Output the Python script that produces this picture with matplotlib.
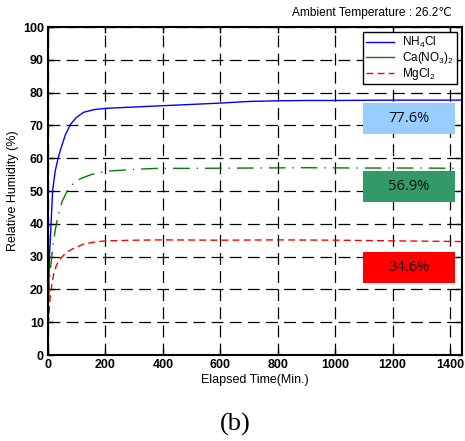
import matplotlib
matplotlib.use("Agg")
import matplotlib.pyplot as plt
from matplotlib.patches import Rectangle
from matplotlib.lines import Line2D

plt.rcParams['font.family'] = ['Liberation Sans', 'DejaVu Sans']
plt.rcParams['mathtext.default'] = 'regular'

# --- data ---
series_names = [r'NH$_4$Cl', r'Ca(NO$_3$)$_2$', r'MgCl$_2$']

t_nh4cl = [0, 2, 5, 9, 16, 25, 35, 44, 60, 78, 100, 124, 160, 200, 300, 400, 500,
           600, 700, 800, 900, 1000, 1200, 1440]
rh_nh4cl = [6, 20, 30, 37, 50, 56, 60, 62.7, 67, 70.3, 72.5, 74, 74.8, 75.2, 75.6,
            76.0, 76.4, 76.8, 77.3, 77.5, 77.6, 77.6, 77.7, 77.7]

t_cano3 = [0, 3, 8, 14, 25, 38, 50, 67, 90, 112, 150, 200, 300, 380, 500, 700, 900,
           1100, 1300, 1440]
rh_cano3 = [7, 20, 26, 31, 38, 43.5, 47, 50, 52.5, 53.7, 55, 56, 56.6, 56.9, 56.9,
            57, 57.1, 57, 57, 56.9]

t_mgcl2 = [0, 3, 8, 14, 20, 30, 43, 60, 84, 124, 160, 200, 300, 400, 600, 800, 1000,
           1200, 1440]
rh_mgcl2 = [6, 12, 18, 22, 24.7, 27.5, 29.3, 31, 32.3, 33.8, 34.4, 34.8, 35, 35.1,
            35.0, 35.1, 35.0, 34.8, 34.6]

box_labels = ['77.6%', '56.9%', '34.6%']
box_ranges = [(67.5, 76.7), (46.7, 56.0), (22.0, 31.5)]
box_colors = ['#99CCFF', '#339966', '#FF0000']

x_ticks = [0, 200, 400, 600, 800, 1000, 1200, 1400]
y_ticks = list(range(0, 101, 10))

# --- figure ---
fig = plt.figure(figsize=(4.65, 4.41), dpi=100)
ax = fig.add_axes([48/465, 86/441, (462-48)/465, (355-27)/441])

ax.plot(t_nh4cl, rh_nh4cl, color='#0000FF', lw=1.0)
ax.plot(t_cano3, rh_cano3, color='#008000', lw=1.0, dashes=[12, 5, 1, 5])
ax.plot(t_mgcl2, rh_mgcl2, color='#FF0000', lw=1.0, dashes=[5, 3])

for lab, (lo, hi), c in zip(box_labels, box_ranges, box_colors):
    ax.add_patch(Rectangle((1096, lo), 1416 - 1096, hi - lo, facecolor=c,
                           edgecolor='none', zorder=3))
    ax.text((1096 + 1416) / 2, (lo + hi) / 2, lab, ha='center', va='center',
            fontsize=10.5, family='Open Sans', color='#111111', zorder=4)

ax.set_xlim(0, 1442)
ax.set_ylim(0, 100)
ax.set_xticks(x_ticks)
ax.set_yticks(y_ticks)
ax.tick_params(direction='in', top=True, right=True, length=4, width=1.0,
               labelsize=9, pad=3)
for lbl in ax.get_xticklabels() + ax.get_yticklabels():
    lbl.set_fontweight('bold')
ax.grid(True, color='black', linestyle=(0, (9.5, 5)), lw=0.9)
for s in ax.spines.values():
    s.set_linewidth(1.5)

ax.set_xlabel('Elapsed Time(Min.)', fontsize=9, labelpad=2)
ax.set_ylabel('Relative Humidity (%)', fontsize=9, labelpad=3)

handles = [Line2D([], [], color='#0000FF', lw=1.0),
           Line2D([], [], color='#008000', lw=1.0),
           Line2D([], [], color='#FF0000', lw=1.0, dashes=[5, 3])]
leg = ax.legend(handles, series_names, loc='upper right', fontsize=8.5,
                fancybox=False, framealpha=1, edgecolor='black',
                borderaxespad=0.45, handlelength=2.4, labelspacing=0.0,
                borderpad=0.2, handletextpad=0.7)
leg.get_frame().set_linewidth(1.0)
leg.set_zorder(5)

fig.text(452/465, 1 - 13/441, 'Ambient Temperature : 26.2℃', ha='right',
         va='center', fontsize=8.6)
fig.text(235/465, 1 - 424/441, '(b)', ha='center', va='center', fontsize=19,
         family='Liberation Serif')

fig.savefig('out.png', dpi=100)
